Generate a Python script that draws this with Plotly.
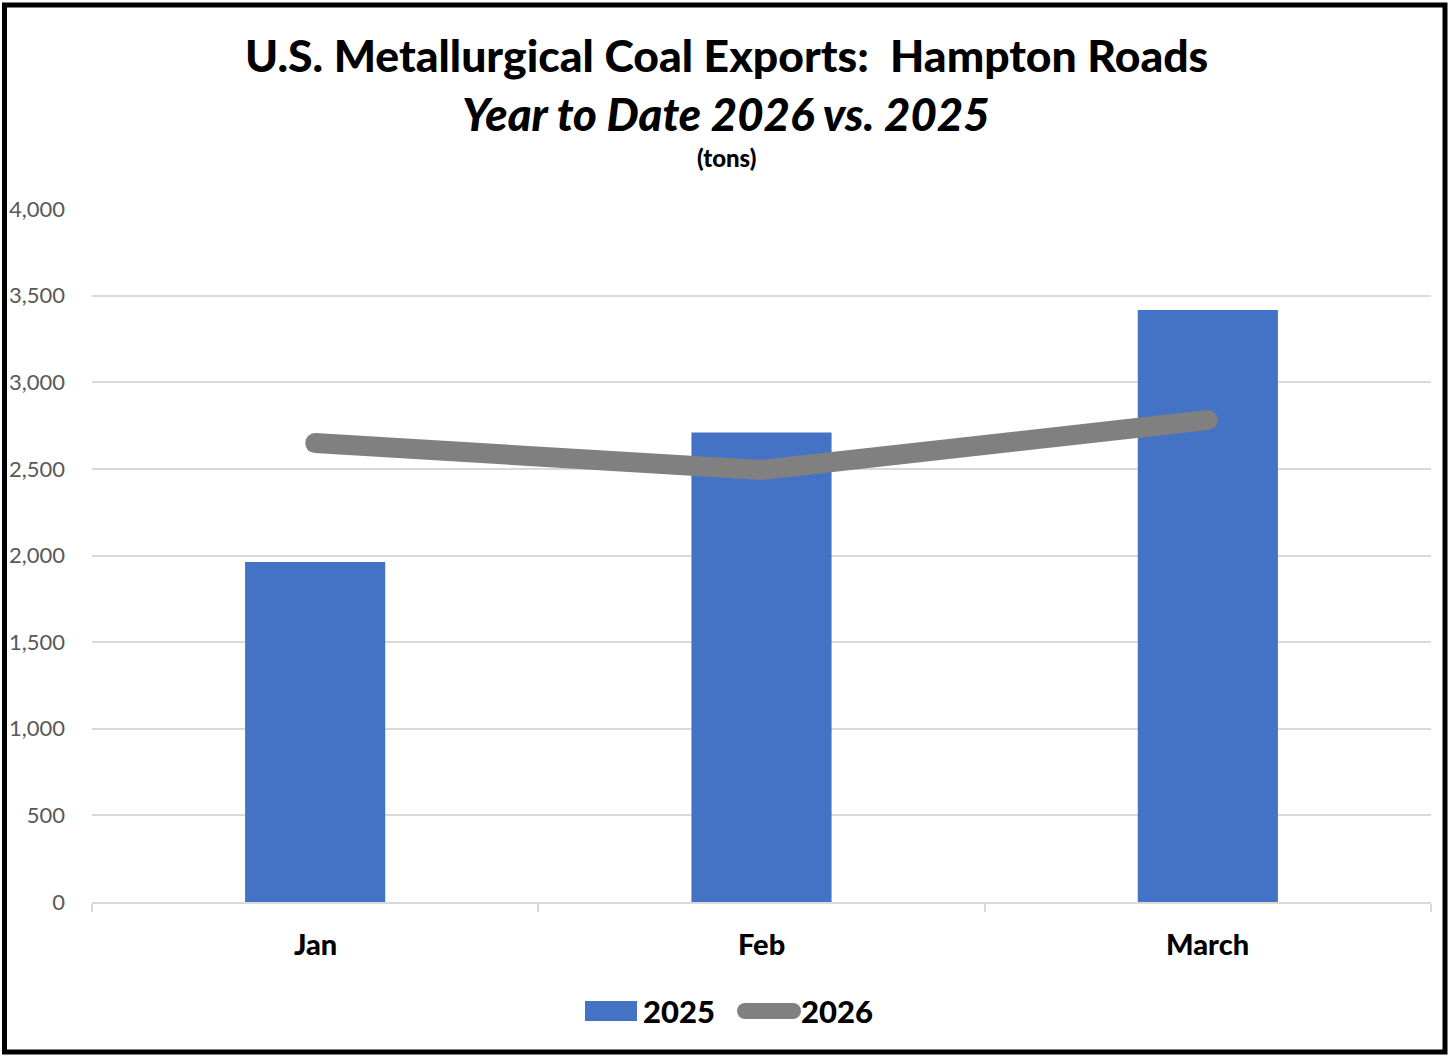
import plotly.graph_objects as go

months = ["Jan", "Feb", "March"]
tons_2025 = [1962, 2710, 3417]
tons_2026 = [2649, 2494, 2782]
y_ticks = [0, 500, 1000, 1500, 2000, 2500, 3000, 3500, 4000]
y_tick_labels = ["0", "500", "1,000", "1,500", "2,000", "2,500", "3,000", "3,500", "4,000"]

W, H = 1449, 1057
ML, MR, MT, MB = 92, 18, 209, 155
PW, PH = W - ML - MR, H - MT - MB

def px_x(p):
    return (p - ML) / PW

def px_y(p):
    return (H - MB - p) / PH

FONT = "Lato"
BLUE = "#4472C4"
GRAY = "#808080"

fig = go.Figure()
fig.add_trace(go.Bar(x=months, y=tons_2025, name="2025", marker=dict(color=BLUE, line=dict(width=0))))
fig.add_trace(go.Scatter(x=months, y=tons_2026, name="2026", mode="lines+markers",
                         line=dict(color=GRAY, width=20),
                         marker=dict(color=GRAY, size=20, line=dict(width=0))))

fig.update_layout(
    width=W, height=H,
    margin=dict(l=ML, r=MR, t=MT, b=MB, autoexpand=False),
    paper_bgcolor="white", plot_bgcolor="white",
    bargap=0.686,
    font=dict(family=FONT),
    showlegend=False,
    xaxis=dict(range=[-0.5, 2.5], showgrid=False, showline=True, linecolor="#d9d9d9", linewidth=2,
               ticks="outside", ticklen=8, tickcolor="#d9d9d9", tickwidth=2,
               tickmode="array", tickvals=[-0.5, 0.5, 1.5, 2.5], ticktext=["", "", "", ""],
               zeroline=False),
    yaxis=dict(range=[0, 4000], tickmode="array", tickvals=y_ticks, ticktext=y_tick_labels,
               showgrid=True, gridcolor="#d9d9d9", gridwidth=2, zeroline=False, showline=False,
               tickfont=dict(size=22, color="#595959", family=FONT), ticklabelstandoff=26),
)

BOLD = 900

# category labels (bold, below axis)
for i, m in enumerate(months):
    fig.add_annotation(text=m, xref="x", yref="paper", x=i, y=px_y(943),
                       xanchor="center", yanchor="middle", showarrow=False,
                       font=dict(size=29, color="black", family=FONT, weight=BOLD))

fig.add_annotation(text="U.S. Metallurgical Coal Exports:  Hampton Roads", xref="paper", yref="paper",
                   x=px_x(726), y=px_y(55), xanchor="center", yanchor="middle", showarrow=False,
                   font=dict(size=44.5, color="black", family=FONT, weight=BOLD))
fig.add_annotation(text="<i>Year to Date 2026 vs. 2025</i>", xref="paper", yref="paper",
                   x=px_x(726), y=px_y(113), xanchor="center", yanchor="middle", showarrow=False,
                   font=dict(size=45.5, color="black", family=FONT, weight=BOLD))
fig.add_annotation(text="(tons)", xref="paper", yref="paper",
                   x=px_x(726), y=px_y(158), xanchor="center", yanchor="middle", showarrow=False,
                   font=dict(size=24, color="black", family=FONT, weight=BOLD))

# custom legend
fig.add_shape(type="rect", xref="paper", yref="paper",
              x0=px_x(585), x1=px_x(637), y0=px_y(1021), y1=px_y(1001),
              fillcolor=BLUE, line=dict(width=0))
fig.add_annotation(text="2025", xref="paper", yref="paper", x=px_x(641), y=px_y(1011),
                   xanchor="left", yanchor="middle", showarrow=False,
                   font=dict(size=31, color="black", family=FONT, weight=BOLD))
fig.add_shape(type="line", xref="paper", yref="paper",
              x0=px_x(745), x1=px_x(793), y0=px_y(1011), y1=px_y(1011),
              line=dict(color=GRAY, width=16))
for cx in (745, 793):
    fig.add_shape(type="circle", xref="paper", yref="paper",
                  x0=px_x(cx - 8), x1=px_x(cx + 8), y0=px_y(1019), y1=px_y(1003),
                  fillcolor=GRAY, line=dict(width=0))
fig.add_annotation(text="2026", xref="paper", yref="paper", x=px_x(799), y=px_y(1011),
                   xanchor="left", yanchor="middle", showarrow=False,
                   font=dict(size=31, color="black", family=FONT, weight=BOLD))

# outer chart frame
fig.add_shape(type="rect", xref="paper", yref="paper",
              x0=px_x(4.5), x1=px_x(1445), y0=px_y(1052), y1=px_y(5),
              line=dict(color="black", width=5), layer="above")

fig.write_html("out.html", config={"displayModeBar": False},
               post_script="document.body.style.margin='0';document.body.style.overflow='hidden';")
